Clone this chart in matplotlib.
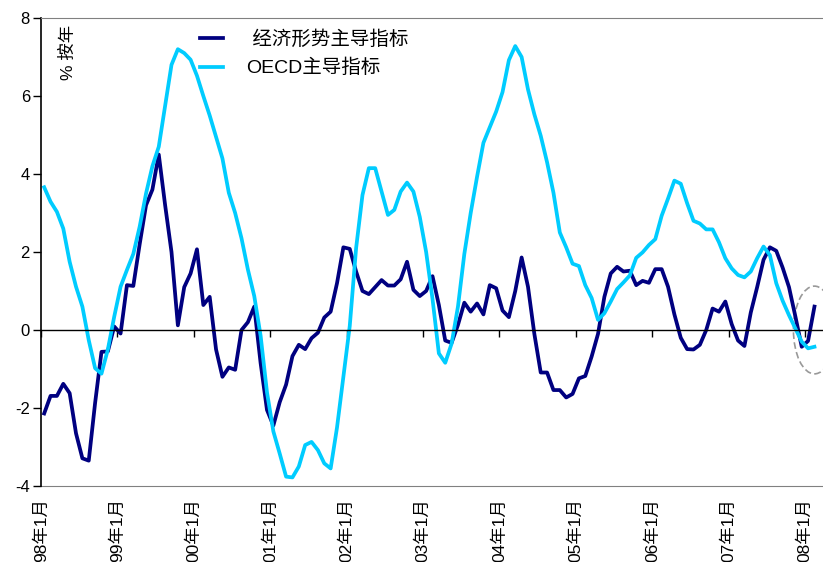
import numpy as np
import matplotlib
matplotlib.use("Agg")
import matplotlib.pyplot as plt
from matplotlib.patches import Ellipse

plt.rcParams['font.family'] = ['Liberation Sans', 'Noto Sans CJK SC']
plt.rcParams['axes.unicode_minus'] = False

# monthly readings, Jan 1998 .. Feb 2008 (% yoy)
years = ['98', '99', '00', '01', '02', '03', '04', '05', '06', '07', '08']
tick_labels = [y + '年1月' for y in years]

econ_lead = [
    -2.14, -1.69, -1.69, -1.38, -1.62, -2.65, -3.29, -3.35, -1.87, -0.56, -0.55, 0.09,
    -0.09, 1.15, 1.13, 2.2, 3.2, 3.6, 4.5, 3.2, 2.0, 0.12, 1.1, 1.45,
    2.07, 0.64, 0.85, -0.5, -1.2, -0.96, -1.02, 0.0, 0.2, 0.6, -0.85, -2.05,
    -2.45, -1.85, -1.4, -0.67, -0.38, -0.49, -0.21, -0.07, 0.32, 0.47, 1.2, 2.12,
    2.08, 1.5, 1.0, 0.92, 1.1, 1.28, 1.14, 1.14, 1.3, 1.75, 1.03, 0.87,
    1.0, 1.38, 0.64, -0.27, -0.33, 0.13, 0.7, 0.47, 0.68, 0.4, 1.15, 1.07,
    0.5, 0.33, 1.0, 1.86, 1.11, -0.1, -1.09, -1.09, -1.54, -1.54, -1.73, -1.64,
    -1.24, -1.18, -0.68, -0.1, 0.85, 1.45, 1.62, 1.5, 1.52, 1.15, 1.26, 1.21,
    1.56, 1.56, 1.11, 0.4, -0.2, -0.49, -0.5, -0.38, 0.0, 0.55, 0.47, 0.73,
    0.15, -0.27, -0.41, 0.45, 1.1, 1.8, 2.12, 2.03, 1.6, 1.1, 0.35, -0.43,
    -0.28, 0.6,
]

oecd_lead = [
    3.66, 3.29, 3.03, 2.6, 1.75, 1.11, 0.6, -0.26, -0.98, -1.12, -0.5, 0.34,
    1.11, 1.54, 1.95, 2.65, 3.5, 4.2, 4.7, 5.75, 6.8, 7.2, 7.1, 6.93,
    6.52, 6.0, 5.5, 4.95, 4.4, 3.52, 3.0, 2.35, 1.55, 0.87, -0.15, -1.6,
    -2.6, -3.17, -3.76, -3.78, -3.5, -2.95, -2.87, -3.08, -3.42, -3.55, -2.5, -1.2,
    0.1, 2.1, 3.46, 4.15, 4.15, 3.55, 2.95, 3.08, 3.55, 3.78, 3.55, 2.9,
    2.0, 0.8, -0.6, -0.84, -0.35, 0.6, 1.95, 3.0, 3.93, 4.8, 5.2, 5.6,
    6.1, 6.92, 7.28, 7.0, 6.17, 5.53, 4.98, 4.3, 3.52, 2.5, 2.12, 1.7,
    1.64, 1.15, 0.82, 0.26, 0.43, 0.73, 1.05, 1.22, 1.4, 1.85, 1.99, 2.18,
    2.33, 2.93, 3.37, 3.83, 3.75, 3.25, 2.8, 2.73, 2.58, 2.58, 2.25, 1.84,
    1.58, 1.41, 1.35, 1.5, 1.84, 2.14, 1.92, 1.2, 0.75, 0.38, 0.04, -0.3,
    -0.47, -0.43,
]

months = np.arange(len(econ_lead))
year_ticks = np.arange(0, len(econ_lead), 12) - 0.5

fig = plt.figure(figsize=(8.23, 5.62), dpi=100)
ax = fig.add_axes([41 / 823, 76 / 562, 783 / 823, 468 / 562])

ax.plot(months, econ_lead, color='#000080', lw=2.7, label=' 经济形势主导指标')
ax.plot(months, oecd_lead, color='#00CCFF', lw=2.7, label='OECD主导指标')

ax.set_xlim(-0.5, 122.5)
ax.set_ylim(-4, 8)
ax.set_yticks(np.arange(-4, 9, 2))
ax.tick_params(axis='y', direction='out', length=6, width=1, pad=2, labelsize=12)

# category axis crosses at zero; labels sit along the bottom border
ax.spines['bottom'].set_position(('data', 0))
ax.spines['bottom'].set_linewidth(1)
ax.set_xticks(year_ticks)
ax.tick_params(axis='x', direction='out', length=5, width=1, labelbottom=False)

sec = ax.secondary_xaxis('bottom')
sec.set_xticks(year_ticks, labels=tick_labels)
sec.tick_params(length=0, pad=9, labelsize=12.5, labelrotation=90)
sec.spines['bottom'].set_color('#808080')

ax.spines['top'].set_color('#808080')
ax.spines['right'].set_visible(False)
ax.spines['left'].set_linewidth(1.2)

ax.text(0.0345, 0.926, '% 按年', transform=ax.transAxes, rotation=90,
        ha='center', va='center', fontsize=12.5)

leg = ax.legend(loc='upper left', bbox_to_anchor=(0.203, 0.973), frameon=False,
                fontsize=14, borderpad=0, borderaxespad=0, handlelength=1.2,
                handletextpad=1.2, labelspacing=0.5)

# mark the latest readings
ax.add_patch(Ellipse((121, 0), width=6.6, height=2.25, fill=False,
                     ec='#999999', ls=(0, (4, 2)), lw=1.2, clip_on=False))

fig.savefig('out.png', dpi=100)
